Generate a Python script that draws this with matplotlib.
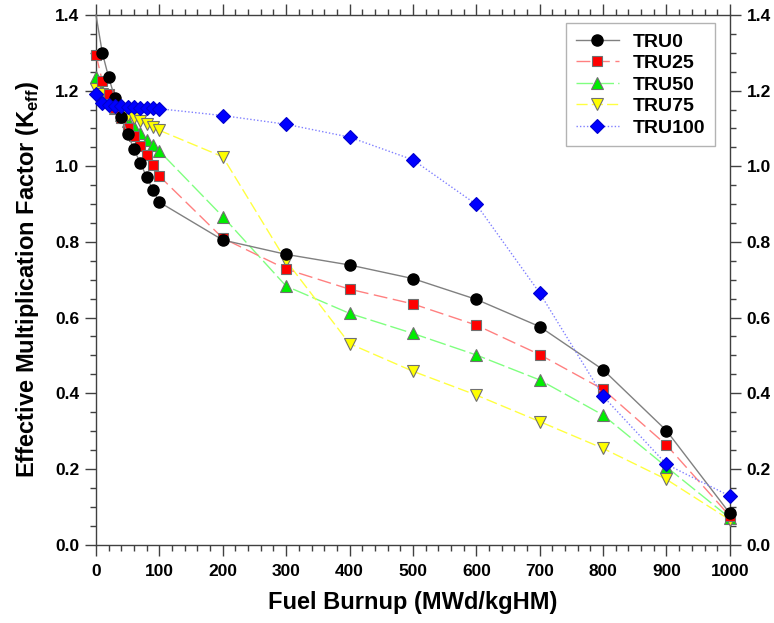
import numpy as np
import matplotlib
matplotlib.use("Agg")
import matplotlib.pyplot as plt
from matplotlib.ticker import MultipleLocator

plt.rcParams['font.family'] = ['Liberation Sans', 'DejaVu Sans']
plt.rcParams['font.weight'] = 'bold'
plt.rcParams['mathtext.fontset'] = 'custom'
plt.rcParams['mathtext.rm'] = 'Liberation Sans:bold'
plt.rcParams['mathtext.bf'] = 'Liberation Sans:bold'

burnup = [0, 10, 20, 30, 40, 50, 60, 70, 80, 90, 100,
          200, 300, 400, 500, 600, 700, 800, 900, 1000]

tru0 = [1.40, 1.30, 1.235, 1.18, 1.13, 1.085, 1.045, 1.008, 0.972, 0.937, 0.905,
        0.805, 0.767, 0.739, 0.703, 0.648, 0.576, 0.462, 0.301, 0.082]
tru25 = [1.295, 1.225, 1.192, 1.155, 1.128, 1.102, 1.079, 1.054, 1.03, 1.004, 0.974,
         0.81, 0.728, 0.675, 0.636, 0.58, 0.502, 0.41, 0.263, 0.075]
tru50 = [1.237, 1.2, 1.175, 1.155, 1.135, 1.12, 1.104, 1.087, 1.07, 1.055, 1.04,
         0.867, 0.683, 0.611, 0.558, 0.501, 0.435, 0.342, 0.205, 0.07]
tru75 = [1.205, 1.19, 1.172, 1.158, 1.145, 1.135, 1.127, 1.12, 1.113, 1.104, 1.095,
         1.025, 0.75, 0.531, 0.458, 0.395, 0.325, 0.254, 0.172, 0.065]
tru100 = [1.19, 1.167, 1.162, 1.16, 1.158, 1.157, 1.156, 1.155, 1.154, 1.153, 1.152,
          1.134, 1.111, 1.077, 1.017, 0.899, 0.665, 0.392, 0.212, 0.128]

fig = plt.figure(figsize=(7.74, 6.23), dpi=100)
ax = fig.add_axes([0.124, 0.126, 0.819, 0.850])

n = len(burnup)
ax.plot(burnup, tru0, color='#808080', lw=1.0, ls='-', marker='o', ms=8,
        mfc='black', mec='black', markevery=list(range(1, n)), clip_on=False,
        label='TRU0', zorder=5)
ax.plot(burnup, tru25, color='#ff8080', lw=1.0, ls=(0, (10, 4)), marker='s', ms=7.5,
        mfc='red', mec='#707070', mew=0.8, clip_on=False, label='TRU25', zorder=4)
ax.plot(burnup, tru50, color='#80ff80', lw=1.0, ls=(0, (12, 3)), marker='^', ms=8.5,
        mfc='#00ee00', mec='#707070', mew=0.8, clip_on=False, label='TRU50', zorder=3)
ax.plot(burnup, tru75, color='#ffff40', lw=1.0, ls=(0, (8, 3)), marker='v', ms=8.5,
        mfc='#ffff00', mec='#707070', mew=0.8, clip_on=False, label='TRU75', zorder=3)
ax.plot(burnup, tru100, color='#8080ff', lw=1.0, ls=(0, (1, 1.5)), marker='D', ms=7,
        mfc='#0000ff', mec='#0000cc', mew=0.8, clip_on=False, label='TRU100', zorder=6)

ax.set_xlim(0, 1000)
ax.set_ylim(0, 1.4)
ax.xaxis.set_major_locator(MultipleLocator(100))
ax.xaxis.set_minor_locator(MultipleLocator(20))
ax.yaxis.set_major_locator(MultipleLocator(0.2))
ax.yaxis.set_minor_locator(MultipleLocator(0.05))
ax.yaxis.set_major_formatter(plt.FormatStrFormatter('%.1f'))

for s in ax.spines.values():
    s.set_color('#404040')
    s.set_linewidth(1.0)
ax.tick_params(which='both', direction='out', top=True, right=True,
               labelright=True, colors='#404040', labelcolor='black')
ax.tick_params(which='major', length=8, width=1.0, labelsize=12.5, pad=6)
ax.tick_params(which='minor', length=4, width=1.0)
ax.yaxis.set_tick_params(which='major', pad=4)
for lab in ax.get_xticklabels() + ax.get_yticklabels():
    lab.set_fontweight('bold')

ax.set_xlabel('Fuel Burnup (MWd/kgHM)', fontsize=17, fontweight='bold', labelpad=9)
ax.set_ylabel(r'Effective Multiplication Factor (K$_{\mathrm{eff}}$)', fontsize=17,
              fontweight='bold', labelpad=10)

leg = ax.legend(loc='upper right', bbox_to_anchor=(0.976, 0.984), fontsize=14,
                frameon=True, fancybox=False, edgecolor='#a0a0a0', handlelength=2.2,
                labelspacing=0.2, borderpad=0.5, handletextpad=0.7, borderaxespad=0)
leg.get_frame().set_linewidth(1.0)
for t in leg.get_texts():
    t.set_fontweight('bold')

plt.savefig('out.png', dpi=100)
